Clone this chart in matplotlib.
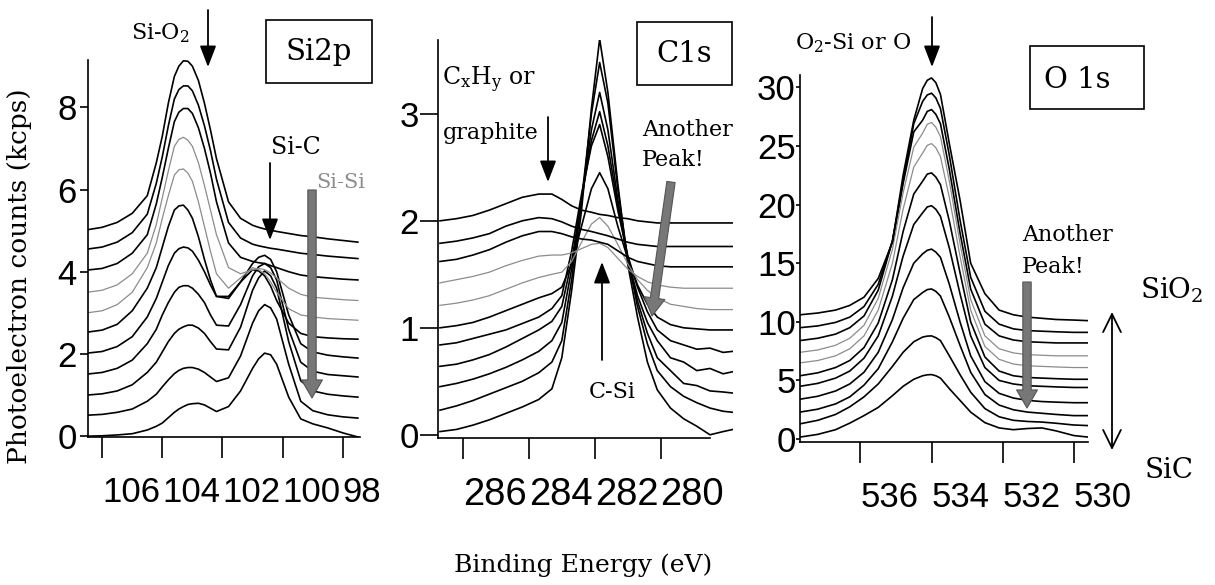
import matplotlib
matplotlib.use("Agg")
import matplotlib.pyplot as plt
from matplotlib.patches import Rectangle, FancyArrowPatch

plt.rcParams['mathtext.fontset'] = 'dejavuserif'

W, H = 1215, 585
SERIF = 'DejaVu Serif'
SANS = 'Liberation Sans'
GRAY = '#8c8c8c'

# ---- Si2p spectra (kcps), bottom -> top ----
E_si = [106.5, 106.0, 105.5, 105.0, 104.5, 104.2, 104.0, 103.8, 103.6, 103.45, 103.3, 103.15,
        103.0, 102.8, 102.6, 102.4, 102.2, 101.8, 101.4, 101.0, 100.8, 100.6, 100.4, 100.2,
        99.8, 99.4, 99.0, 98.5, 98.0, 97.5]
si0 = [0.0, 0.01, 0.03, 0.06, 0.15, 0.24, 0.32, 0.45, 0.58, 0.66, 0.72, 0.77, 0.79, 0.8, 0.76, 0.68, 0.6, 0.72, 1.1, 1.65, 1.88, 2.02, 1.98, 1.75, 0.95, 0.42, 0.3, 0.2, 0.08, -0.02]
si1 = [0.51, 0.53, 0.58, 0.66, 0.85, 1.02, 1.2, 1.37, 1.52, 1.6, 1.65, 1.67, 1.67, 1.63, 1.55, 1.44, 1.33, 1.42, 1.95, 2.75, 3.05, 3.2, 3.12, 2.85, 1.75, 0.85, 0.62, 0.52, 0.47, 0.44]
si2 = [1.0, 1.03, 1.1, 1.25, 1.55, 1.8, 2.05, 2.3, 2.5, 2.6, 2.66, 2.7, 2.7, 2.63, 2.5, 2.3, 2.12, 2.1, 2.65, 3.55, 3.85, 4.02, 3.9, 3.6, 2.3, 1.35, 1.1, 1.02, 0.98, 0.95]
si3 = [1.51, 1.55, 1.65, 1.85, 2.25, 2.6, 2.95, 3.25, 3.5, 3.62, 3.66, 3.66, 3.6, 3.45, 3.25, 2.95, 2.7, 2.68, 3.2, 3.9, 4.12, 4.2, 4.1, 3.8, 2.6, 1.8, 1.58, 1.5, 1.47, 1.44]
si4 = [2.02, 2.06, 2.18, 2.42, 2.9, 3.35, 3.75, 4.15, 4.45, 4.56, 4.6, 4.58, 4.5, 4.28, 4.0, 3.68, 3.4, 3.4, 3.75, 4.2, 4.35, 4.4, 4.3, 4.0, 2.95, 2.25, 2.05, 1.97, 1.93, 1.9]
si5 = [2.53, 2.58, 2.72, 3.05, 3.6, 4.1, 4.6, 5.1, 5.5, 5.6, 5.62, 5.5, 5.3, 4.85, 4.3, 3.8, 3.4, 3.35, 3.75, 4.05, 4.02, 3.9, 3.65, 3.3, 2.75, 2.5, 2.42, 2.39, 2.37, 2.36]
si6 = [3.0, 3.05, 3.2, 3.5, 4.1, 4.7, 5.3, 5.85, 6.35, 6.48, 6.5, 6.4, 6.2, 5.7, 5.1, 4.5, 3.95, 3.6, 3.85, 4.1, 4.05, 3.95, 3.75, 3.5, 3.1, 2.95, 2.9, 2.86, 2.84, 2.82]
si7 = [3.5, 3.55, 3.68, 3.95, 4.45, 5.15, 5.8, 6.45, 7.05, 7.22, 7.27, 7.2, 7.05, 6.65, 6.1, 5.5, 4.9, 4.1, 3.95, 4.05, 4.08, 4.05, 3.97, 3.85, 3.6, 3.45, 3.38, 3.35, 3.32, 3.3]
si8 = [4.04, 4.08, 4.2, 4.45, 4.9, 5.65, 6.3, 7.0, 7.65, 7.88, 7.97, 7.97, 7.85, 7.5, 7.0, 6.4, 5.7, 4.7, 4.35, 4.25, 4.22, 4.2, 4.15, 4.1, 4.0, 3.92, 3.88, 3.85, 3.82, 3.8]
si9 = [4.55, 4.6, 4.72, 4.95, 5.4, 6.15, 6.8, 7.55, 8.2, 8.43, 8.52, 8.52, 8.4, 8.05, 7.55, 6.95, 6.25, 5.2, 4.82, 4.67, 4.63, 4.6, 4.57, 4.55, 4.5, 4.45, 4.42, 4.38, 4.35, 4.32]
si10 = [5.02, 5.08, 5.2, 5.42, 5.85, 6.65, 7.3, 8.1, 8.75, 9.0, 9.13, 9.12, 9.0, 8.65, 8.1, 7.45, 6.75, 5.7, 5.3, 5.13, 5.08, 5.04, 5.01, 4.98, 4.93, 4.88, 4.85, 4.8, 4.76, 4.72]

# ---- C1s spectra ----
E_c = [286.7, 286.2, 285.7, 285.2, 284.7, 284.2, 283.7, 283.3, 283.0, 282.7, 282.4, 282.1,
       281.85, 281.6, 281.3, 281.0, 280.7, 280.4, 280.1, 279.7, 279.3, 278.9, 278.5, 278.1, 277.8]
c0 = [0.03, 0.05, 0.09, 0.14, 0.2, 0.26, 0.33, 0.43, 0.72, 1.35, 2.1, 3.05, 3.7, 3.2, 2.35, 1.6, 1.1, 0.68, 0.42, 0.25, 0.15, 0.08, 0.0, 0.03, 0.05]
c1 = [0.23, 0.27, 0.32, 0.38, 0.44, 0.5, 0.58, 0.68, 0.88, 1.45, 2.2, 3.0, 3.48, 3.1, 2.3, 1.65, 1.2, 0.85, 0.6, 0.45, 0.36, 0.3, 0.25, 0.22, 0.21]
c2 = [0.45, 0.48, 0.52, 0.57, 0.63, 0.7, 0.78, 0.88, 1.05, 1.55, 2.2, 2.85, 3.2, 2.85, 2.2, 1.65, 1.25, 0.95, 0.72, 0.6, 0.48, 0.46, 0.41, 0.4, 0.39]
c3 = [0.64, 0.66, 0.7, 0.75, 0.82, 0.9, 0.98, 1.06, 1.2, 1.62, 2.2, 2.75, 3.02, 2.7, 2.15, 1.65, 1.3, 1.05, 0.88, 0.72, 0.68, 0.6, 0.62, 0.57, 0.59]
c4 = [0.84, 0.86, 0.9, 0.94, 0.98, 1.04, 1.1, 1.18, 1.3, 1.72, 2.25, 2.7, 2.9, 2.6, 2.1, 1.68, 1.38, 1.15, 0.98, 0.88, 0.84, 0.8, 0.81, 0.77, 0.78]
c5 = [1.0, 1.02, 1.05, 1.1, 1.16, 1.22, 1.28, 1.32, 1.38, 1.6, 1.95, 2.3, 2.45, 2.3, 1.95, 1.65, 1.4, 1.22, 1.1, 1.03, 1.0, 0.99, 0.98, 0.98, 0.98]
c6 = [1.21, 1.23, 1.26, 1.3, 1.36, 1.42, 1.47, 1.5, 1.52, 1.62, 1.8, 1.97, 2.03, 1.95, 1.78, 1.6, 1.45, 1.35, 1.28, 1.22, 1.2, 1.18, 1.17, 1.17, 1.17]
c7 = [1.42, 1.45, 1.48, 1.52, 1.58, 1.63, 1.67, 1.68, 1.68, 1.7, 1.74, 1.78, 1.79, 1.75, 1.65, 1.55, 1.48, 1.43, 1.4, 1.38, 1.37, 1.37, 1.37, 1.37, 1.37]
c8 = [1.62, 1.64, 1.68, 1.73, 1.8, 1.86, 1.9, 1.9, 1.88, 1.85, 1.83, 1.82, 1.8, 1.78, 1.72, 1.66, 1.62, 1.6, 1.58, 1.57, 1.57, 1.57, 1.57, 1.57, 1.57]
c9 = [1.79, 1.81, 1.84, 1.88, 1.95, 2.0, 2.03, 2.02, 1.99, 1.95, 1.92, 1.9, 1.88, 1.86, 1.83, 1.8, 1.78, 1.77, 1.76, 1.76, 1.76, 1.76, 1.76, 1.76, 1.76]
c10 = [2.0, 2.02, 2.05, 2.1, 2.16, 2.22, 2.25, 2.25, 2.2, 2.14, 2.1, 2.08, 2.06, 2.05, 2.03, 2.02, 2.0, 1.99, 1.98, 1.98, 1.98, 1.98, 1.98, 1.98, 1.98]

# ---- O1s spectra ----
E_o = [537.7, 537.2, 536.7, 536.3, 535.9, 535.5, 535.1, 534.8, 534.5, 534.25, 534.12, 534.0,
       533.88, 533.75, 533.5, 533.2, 532.9, 532.5, 532.1, 531.7, 531.3, 530.9, 530.5, 530.0, 529.6]
o0 = [0.17, 0.4, 0.8, 1.36, 2.0, 2.7, 3.7, 4.5, 5.1, 5.4, 5.48, 5.5, 5.4, 5.2, 4.3, 3.3, 2.3, 1.4, 0.95, 0.8, 0.9, 0.95, 0.7, 0.3, 0.17]
o1 = [1.3, 1.6, 2.1, 2.75, 3.6, 4.7, 6.2, 7.4, 8.3, 8.7, 8.78, 8.8, 8.65, 8.4, 7.1, 5.5, 4.0, 2.6, 1.9, 1.6, 1.5, 1.45, 1.35, 1.2, 1.15]
o2 = [2.3, 2.55, 3.0, 3.6, 4.6, 6.0, 8.3, 10.3, 11.9, 12.5, 12.75, 12.8, 12.6, 12.2, 10.4, 8.0, 5.7, 3.8, 2.9, 2.5, 2.3, 2.2, 2.1, 2.0, 2.0]
o3 = [3.4, 3.65, 4.1, 4.7, 5.7, 7.4, 10.2, 12.9, 15.0, 15.8, 16.1, 16.2, 15.95, 15.5, 13.2, 10.0, 7.1, 4.9, 3.9, 3.5, 3.3, 3.2, 3.15, 3.1, 3.1]
o4 = [4.5, 4.75, 5.2, 5.8, 6.9, 8.8, 12.2, 15.6, 18.3, 19.3, 19.8, 19.9, 19.6, 19.0, 16.3, 12.4, 8.8, 6.1, 5.0, 4.7, 4.55, 4.5, 4.45, 4.4, 4.4]
o5 = [5.4, 5.65, 6.1, 6.7, 7.8, 9.9, 13.6, 17.7, 20.9, 22.0, 22.6, 22.7, 22.35, 21.7, 18.6, 14.2, 10.0, 7.0, 5.8, 5.4, 5.25, 5.2, 5.15, 5.1, 5.1]
o6 = [6.5, 6.7, 7.1, 7.7, 8.8, 11.0, 15.0, 19.6, 23.2, 24.4, 25.05, 25.2, 24.85, 24.1, 20.6, 15.6, 11.0, 7.9, 6.8, 6.4, 6.25, 6.2, 6.15, 6.1, 6.1]
o7 = [7.4, 7.6, 8.0, 8.6, 9.7, 12.0, 16.2, 21.0, 24.9, 26.1, 26.85, 27.0, 26.6, 25.8, 22.0, 16.7, 11.9, 8.8, 7.7, 7.35, 7.2, 7.15, 7.1, 7.1, 7.1]
o8 = [8.4, 8.6, 8.95, 9.5, 10.5, 12.7, 16.9, 21.8, 26.2, 27.2, 27.95, 28.1, 27.7, 26.9, 23.0, 17.6, 12.8, 9.8, 8.8, 8.45, 8.3, 8.25, 8.2, 8.2, 8.2]
o9 = [9.5, 9.65, 9.95, 10.4, 11.3, 13.2, 16.9, 22.0, 26.9, 28.8, 29.35, 29.5, 29.1, 28.2, 24.2, 18.7, 13.8, 10.9, 9.8, 9.4, 9.25, 9.2, 9.15, 9.1, 9.1]
o10 = [10.6, 10.75, 11.0, 11.4, 12.1, 13.7, 16.8, 22.5, 27.2, 29.9, 30.6, 30.8, 30.4, 29.4, 25.2, 20.4, 15.0, 12.4, 11.0, 10.6, 10.4, 10.3, 10.2, 10.15, 10.1]

si_curves = [si0, si1, si2, si3, si4, si5, si6, si7, si8, si9, si10]
c_curves = [c0, c1, c2, c3, c4, c5, c6, c7, c8, c9, c10]
o_curves = [o0, o1, o2, o3, o4, o5, o6, o7, o8, o9, o10]
gray_idx = [6, 7]

si_xticks = [106, 104, 102, 100, 98]
c_xticks = [286, 284, 282, 280]
o_xticks = [536, 534, 532, 530]
si_yticks = [0, 2, 4, 6, 8]
c_yticks = [0, 1, 2, 3]
o_yticks = [0, 5, 10, 15, 20, 25, 30]


def fp(x, y):
    return (x / W, 1 - y / H)


fig = plt.figure(figsize=(12.15, 5.85), dpi=100)


def panel(l, t, r, b, E, curves, xlim, ylim, xticks, yticks, ylen, ypad, xsize=25):
    ax = fig.add_axes([l / W, 1 - b / H, (r - l) / W, (b - t) / H])
    for i, y in enumerate(curves):
        if i in gray_idx:
            ax.plot(E, y, color=GRAY, lw=0.9)
        else:
            ax.plot(E, y, color='k', lw=1.2)
    ax.set_xlim(*xlim)
    ax.set_ylim(*ylim)
    ax.spines['top'].set_visible(False)
    ax.spines['right'].set_visible(False)
    ax.spines['left'].set_linewidth(1.2)
    ax.spines['bottom'].set_linewidth(1.2)
    ax.set_xticks(xticks)
    ax.set_yticks(yticks)
    ax.tick_params(axis='x', direction='out', length=15, width=1.2, pad=13,
                   labelsize=xsize)
    ax.tick_params(axis='y', direction='out', length=ylen, width=1.2, pad=ypad,
                   labelsize=25)
    for lbl in ax.get_xticklabels() + ax.get_yticklabels():
        lbl.set_fontfamily(SANS)
    for lbl in ax.get_xticklabels():
        lbl.set_horizontalalignment('left')
    ax.patch.set_alpha(0)
    return ax


ax1 = panel(88, 60, 360, 437, E_si, si_curves, (106.47, 97.43), (-0.02, 9.15),
            si_xticks, si_yticks, 6, 2)
ax2 = panel(438, 40, 733, 438, E_c, c_curves, (286.76, 277.8), (-0.03, 3.69),
            c_xticks, c_yticks, 13, 1, xsize=27.5)
ax2.spines['bottom'].set_bounds(286.76, 278.5)
ax3 = panel(800, 75, 1088, 442, E_o, o_curves, (537.7, 529.6), (-0.25, 31.05),
            o_xticks, o_yticks, 3, 0)

# axis titles
fig.text(*fp(20, 276), 'Photoelectron counts (kcps)', rotation=90, ha='center',
         va='center', fontsize=19, family=SERIF)
fig.text(*fp(583, 565), 'Binding Energy (eV)', ha='center', va='center',
         fontsize=18, family=SERIF)

# boxed panel labels
for (x0, y0, x1, y1), txt, (tx, ty) in [((266, 20, 372, 83), 'Si2p', (319, 52)),
                                         ((637, 22, 732, 85), 'C1s', (684, 54)),
                                         ((1030, 46, 1144, 109), 'O 1s', (1077, 80))]:
    fig.add_artist(Rectangle(fp(x0, y1), (x1 - x0) / W, (y1 - y0) / H,
                             transform=fig.transFigure, fill=False, ec='k', lw=1.2))
    fig.text(*fp(tx, ty), txt, ha='center', va='center', fontsize=21, family=SERIF)


def txt(x, y, s, size=16, ha='center', color='k'):
    fig.text(*fp(x, y), s, ha=ha, va='center', fontsize=size, family=SERIF, color=color)


def black_arrow(x0, y0, x1, y1):
    fig.add_artist(FancyArrowPatch(fp(x0, y0), fp(x1, y1), transform=fig.transFigure,
                                   arrowstyle='-|>,head_length=0.65,head_width=0.25',
                                   mutation_scale=20, lw=1.3, color='k',
                                   shrinkA=0, shrinkB=0))


def gray_arrow(x0, y0, x1, y1):
    fig.add_artist(FancyArrowPatch(fp(x0, y0), fp(x1, y1), transform=fig.transFigure,
                                   arrowstyle='simple,head_length=0.65,head_width=0.75,tail_width=0.3',
                                   mutation_scale=20, lw=0.8, fc='#777777', ec='#555555',
                                   shrinkA=0, shrinkB=0))


# Si2p annotations
txt(160, 33, 'Si-O$_2$', 16)
black_arrow(208, 10, 208, 67)
txt(296, 147, 'Si-C', 17)
black_arrow(270, 163, 270, 240)
txt(341, 182, 'Si-Si', 15, color=GRAY)
gray_arrow(312, 190, 312, 398)

# C1s annotations
txt(442, 80, r'C$_\mathrm{x}$H$_\mathrm{y}$ or', 17, ha='left')
txt(443, 133, 'graphite', 16, ha='left')
black_arrow(548, 117, 548, 182)
txt(642, 130, 'Another', 16, ha='left')
txt(642, 160, 'Peak!', 16, ha='left')
gray_arrow(671, 182, 652, 316)
txt(612, 392, 'C-Si', 16)
black_arrow(602, 360, 602, 262)

# O1s annotations
txt(795, 43, 'O$_2$-Si or O', 16, ha='left')
black_arrow(932, 17, 932, 67)
txt(1022, 235, 'Another', 16, ha='left')
txt(1022, 267, 'Peak!', 16, ha='left')
gray_arrow(1027, 282, 1027, 408)
txt(1140, 290, 'SiO$_2$', 20, ha='left')
txt(1145, 470, 'SiC', 20, ha='left')
fig.add_artist(FancyArrowPatch(fp(1112, 312), fp(1112, 450), transform=fig.transFigure,
                               arrowstyle='<->,head_length=0.65,head_width=0.32',
                               mutation_scale=20, lw=1.3, color='k',
                               shrinkA=0, shrinkB=0))

fig.savefig('out.png', dpi=100)
